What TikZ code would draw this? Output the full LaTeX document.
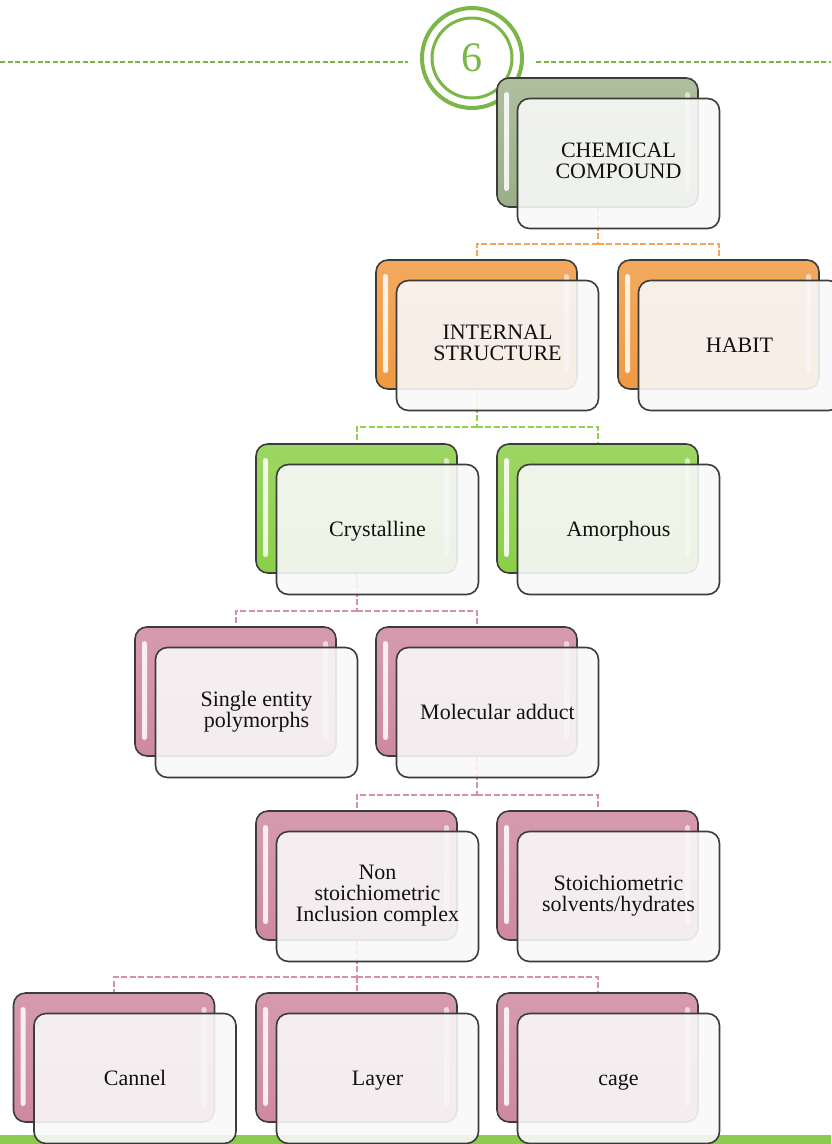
\documentclass[tikz,border=0pt]{standalone}
\usepackage{fontspec}
\setmainfont{Liberation Serif}
\usetikzlibrary{calc}
\pgfdeclarelayer{links}
\pgfsetlayers{links,main}
\definecolor{chmInk}{HTML}{111111}
\definecolor{chmEdge}{HTML}{3C3C3C}
\definecolor{chmSage}{HTML}{9AAF86}
\definecolor{chmOrange}{HTML}{F09A42}
\definecolor{chmGreen}{HTML}{8CCF48}
\definecolor{chmPink}{HTML}{CE89A0}
\definecolor{chmCard}{HTML}{F8F8F8}
\definecolor{chmRing}{HTML}{7AB648}
\definecolor{chmBar}{HTML}{8CCB50}
\definecolor{chmLinkOrange}{HTML}{F5A55A}
\definecolor{chmLinkGreen}{HTML}{92D050}
\definecolor{chmLinkPink}{HTML}{D591A8}
\tikzset{
  chmBack/.style={
    draw=chmEdge,
    line width=1.6pt,
    rounded corners=12pt,
    minimum width=201pt,
    minimum height=129pt,
    inner sep=0pt,
    path picture={
      \fill[white, opacity=0.85, rounded corners=2.5pt]
        ([xshift=7pt,yshift=-14pt]path picture bounding box.north west)
        rectangle ([xshift=12pt,yshift=16pt]path picture bounding box.south west);
      \fill[white, opacity=0.6, rounded corners=2.5pt]
        ([xshift=-13pt,yshift=-14pt]path picture bounding box.north east)
        rectangle ([xshift=-8pt,yshift=16pt]path picture bounding box.south east);
    }
  },
  chmSageBack/.style={chmBack, top color=chmSage!80!white, bottom color=chmSage},
  chmOrangeBack/.style={chmBack, top color=chmOrange!85!white, bottom color=chmOrange},
  chmGreenBack/.style={chmBack, top color=chmGreen!85!white, bottom color=chmGreen},
  chmPinkBack/.style={chmBack, top color=chmPink!85!white, bottom color=chmPink},
  chmCardBox/.style={
    draw=chmEdge,
    line width=1.6pt,
    rounded corners=12pt,
    minimum width=202pt,
    minimum height=130pt,
    fill=chmCard,
    fill opacity=0.9,
    text opacity=1,
    align=center,
    text=chmInk,
    font=\fontsize{22}{21}\selectfont,
    execute at begin node=\strut,
    execute at end node=\strut
  },
  chmSingle/.style={
    chmCardBox,
    execute at begin node=\rule[-5pt]{0pt}{25pt},
    execute at end node={}
  },
  chmLink/.style={
    line width=2pt,
    dash pattern=on 6pt off 2.5pt
  }
}

\begin{document}
\begin{tikzpicture}[x=1pt,y=-1pt]
\useasboundingbox (0,0) rectangle (831,1144);

% Slide header and footer.
\draw[chmRing, line width=1.3pt, dash pattern=on 5pt off 2.5pt] (0,62) -- (408,62);
\draw[chmRing, line width=1.3pt, dash pattern=on 5pt off 2.5pt] (536,62) -- (831,62);
\node[circle, draw=chmRing, line width=4pt, minimum size=100pt, inner sep=0pt,
      text=chmRing, font=\fontsize{42}{42}\selectfont] (slideNo) at (472,58) {6};
\node[circle, draw=chmRing, line width=3pt, minimum size=80pt, inner sep=0pt] (slideRing) at (slideNo.center) {};
\fill[chmBar] (0,1135) rectangle (831,1144);

% Level 0.
\node[chmSageBack] (chemB) at (597.5,142.5) {};
\node[chmCardBox] (chem) at (618.5,163.5) {CHEMICAL\\COMPOUND};

% Level 1.
\node[chmOrangeBack] (intB) at (476.5,324.5) {};
\node[chmCardBox] (int) at (497.5,345.5) {INTERNAL\\STRUCTURE};
\node[chmOrangeBack] (habB) at (718.5,324.5) {};
\node[chmSingle] (hab) at (739.5,345.5) {HABIT};

% Level 2.
\node[chmGreenBack] (cryB) at (356.5,508.5) {};
\node[chmSingle] (cry) at (377.5,529.5) {Crystalline};
\node[chmGreenBack] (amoB) at (597.5,508.5) {};
\node[chmSingle] (amo) at (618.5,529.5) {Amorphous};

% Level 3.
\node[chmPinkBack] (sinB) at (235.5,691.5) {};
\node[chmCardBox] (sin) at (256.5,712.5) {Single entity\\polymorphs};
\node[chmPinkBack] (molB) at (476.5,691.5) {};
\node[chmSingle] (mol) at (497.5,712.5) {Molecular adduct};

% Level 4.
\node[chmPinkBack] (nonB) at (356.5,875.5) {};
\node[chmCardBox] (non) at (377.5,896.5) {Non\\stoichiometric\\Inclusion complex};
\node[chmPinkBack] (stoB) at (597.5,875.5) {};
\node[chmCardBox] (sto) at (618.5,896.5) {Stoichiometric\\solvents/hydrates};

% Level 5.
\node[chmPinkBack] (canB) at (114,1057.5) {};
\node[chmSingle] (can) at (135,1078.5) {Cannel};
\node[chmPinkBack] (layB) at (356.5,1057.5) {};
\node[chmSingle] (lay) at (377.5,1078.5) {Layer};
\node[chmPinkBack] (cagB) at (597.5,1057.5) {};
\node[chmSingle] (cag) at (618.5,1078.5) {cage};

% Dashed tree links, kept behind the cards.
\begin{pgfonlayer}{links}
\draw[chmLink, draw=chmLinkOrange] (chemB.south) -- ++(0,36) coordinate (busA);
\draw[chmLink, draw=chmLinkOrange] (busA) -| (intB.north);
\draw[chmLink, draw=chmLinkOrange] (busA) -| (habB.north);

\draw[chmLink, draw=chmLinkGreen] (intB.south) -- ++(0,37) coordinate (busB);
\draw[chmLink, draw=chmLinkGreen] (busB) -| (cryB.north);
\draw[chmLink, draw=chmLinkGreen] (busB) -| (amoB.north);

\draw[chmLink, draw=chmLinkPink] (cryB.south) -- ++(0,37) coordinate (busC);
\draw[chmLink, draw=chmLinkPink] (busC) -| (sinB.north);
\draw[chmLink, draw=chmLinkPink] (busC) -| (molB.north);

\draw[chmLink, draw=chmLinkPink] (molB.south) -- ++(0,38) coordinate (busD);
\draw[chmLink, draw=chmLinkPink] (busD) -| (nonB.north);
\draw[chmLink, draw=chmLinkPink] (busD) -| (stoB.north);

\draw[chmLink, draw=chmLinkPink] (nonB.south) -- ++(0,36) coordinate (busE);
\draw[chmLink, draw=chmLinkPink] (busE) -| (canB.north);
\draw[chmLink, draw=chmLinkPink] (busE) -| (layB.north);
\draw[chmLink, draw=chmLinkPink] (busE) -| (cagB.north);
\end{pgfonlayer}

\end{tikzpicture}
\end{document}
